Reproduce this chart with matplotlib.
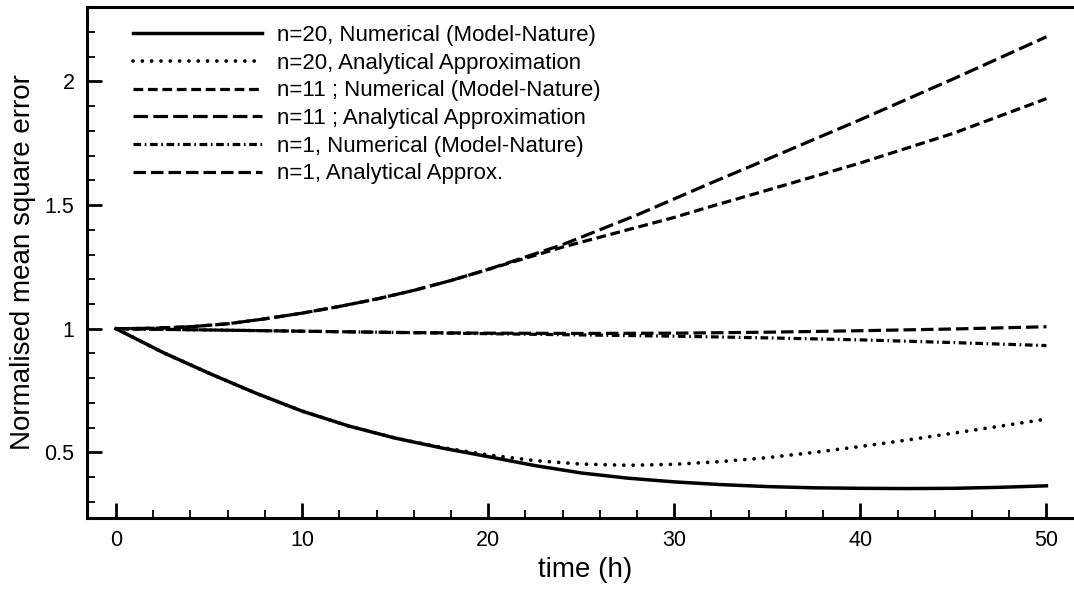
# Normalised mean square error vs time
import matplotlib
matplotlib.use("Agg")
import matplotlib.pyplot as plt
from matplotlib.ticker import MultipleLocator, FuncFormatter

plt.rcParams['font.family'] = ['Liberation Sans', 'DejaVu Sans']
plt.rcParams['lines.scale_dashes'] = False

# n=20 numerical (solid)
t_n20 = [0, 2.5, 5, 7.5, 10, 12.5, 15, 17.5, 20, 22.5, 25, 27.5, 30, 32.5, 35,
         37.5, 40, 42.5, 45, 47.5, 50]
e_n20_num = [1.0, 0.905, 0.82, 0.74, 0.667, 0.607, 0.558, 0.518, 0.483, 0.447, 0.417,
             0.396, 0.381, 0.370, 0.362, 0.357, 0.355, 0.354, 0.355, 0.359, 0.365]
# n=20 analytical (dotted)
e_n20_ana = [1.0, 0.905, 0.82, 0.74, 0.667, 0.607, 0.558, 0.52, 0.49, 0.467, 0.453,
             0.448, 0.452, 0.463, 0.479, 0.50, 0.524, 0.55, 0.578, 0.606, 0.635]

# n=11 curves
t_n11 = [0, 2, 4, 6, 8, 10, 12, 14, 16, 18, 20, 22, 24, 26, 28, 30, 32, 35, 40, 45, 50]
e_n11_num = [1.0, 1.002, 1.008, 1.02, 1.04, 1.063, 1.09, 1.12, 1.155, 1.195, 1.24,
             1.285, 1.33, 1.37, 1.41, 1.45, 1.495, 1.56, 1.67, 1.79, 1.93]
e_n11_ana = [1.0, 1.002, 1.008, 1.02, 1.04, 1.063, 1.09, 1.12, 1.155, 1.195, 1.24,
             1.29, 1.34, 1.40, 1.46, 1.525, 1.59, 1.685, 1.845, 2.01, 2.18]

# n=1 curves
t_n1 = [0, 5, 10, 15, 20, 25, 30, 35, 40, 45, 50]
e_n1_num = [1.0, 0.995, 0.99, 0.985, 0.98, 0.975, 0.97, 0.963, 0.955, 0.944, 0.932]
e_n1_ana = [1.0, 0.995, 0.99, 0.985, 0.982, 0.981, 0.982, 0.986, 0.992, 0.999, 1.008]

labels = ["n=20, Numerical (Model-Nature)",
          "n=20, Analytical Approximation",
          "n=11 ; Numerical (Model-Nature)",
          "n=11 ; Analytical Approximation",
          "n=1, Numerical (Model-Nature)",
          "n=1, Analytical Approx."]

fig = plt.figure(figsize=(10.74, 5.92), dpi=100)
ax = fig.add_axes([0.081, 0.125, 0.928, 0.863])

lw = 2.3
ax.plot(t_n20, e_n20_num, color='k', lw=2.5, label=labels[0])
ax.plot(t_n20, e_n20_ana, color='k', lw=2.7, dashes=(0.01, 6.7),
        dash_capstyle='round', label=labels[1])
ax.plot(t_n11, e_n11_num, color='k', lw=lw, dashes=(7.0, 3.4), label=labels[2])
ax.plot(t_n11, e_n11_ana, color='k', lw=lw, dashes=(10.5, 3.8), label=labels[3])
ax.plot(t_n1, e_n1_num, color='k', lw=lw, dashes=(5.5, 2.6, 1.2, 2.6), label=labels[4])
ax.plot(t_n1, e_n1_ana, color='k', lw=lw, dashes=(9.0, 3.6), label=labels[5])

ax.set_xlim(-1.56, 52)
ax.set_ylim(0.235, 2.3)

ax.xaxis.set_major_locator(MultipleLocator(10))
ax.xaxis.set_minor_locator(MultipleLocator(2))
ax.yaxis.set_major_locator(MultipleLocator(0.5))
ax.yaxis.set_minor_locator(MultipleLocator(0.1))
ax.yaxis.set_major_formatter(FuncFormatter(lambda v, p: f"{v:g}"))

ax.tick_params(which='both', direction='in', top=False, right=False, labelsize=15.5)
ax.tick_params(which='major', length=11, width=2.0, pad=9)
ax.tick_params(which='minor', length=5.5, width=1.3)
for s in ['left', 'bottom', 'top']:
    ax.spines[s].set_linewidth(2.2)
ax.spines['right'].set_visible(False)

ax.set_xlabel("time (h)", fontsize=20, labelpad=4)
ax.set_ylabel("Normalised mean square error", fontsize=20, labelpad=6)

ax.legend(loc='upper left', bbox_to_anchor=(133 / 1074, 1 - 25 / 592),
          bbox_transform=fig.transFigure, frameon=False, fontsize=16,
          handlelength=5.8, handletextpad=0.7, labelspacing=0.3,
          borderpad=0, borderaxespad=0)

fig.savefig("out.png", dpi=100)
